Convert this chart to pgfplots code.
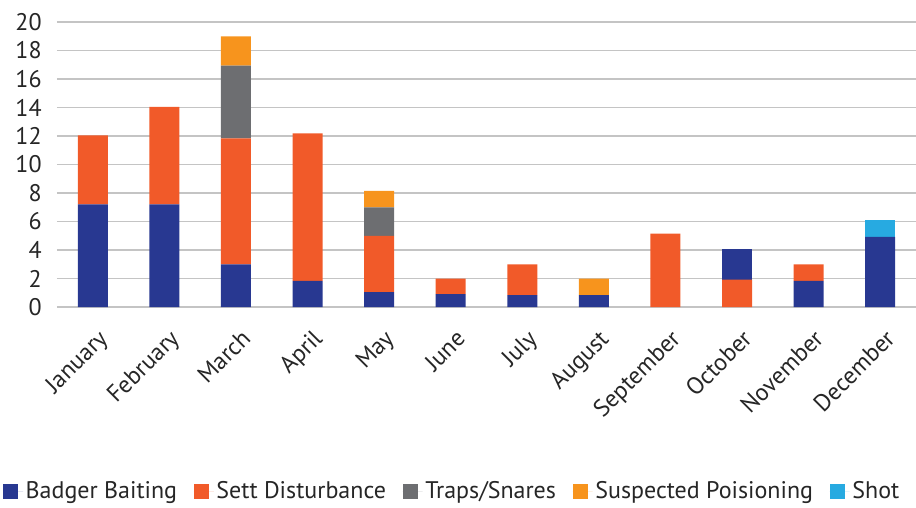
\documentclass[border=0pt]{standalone}
\usepackage{pgfplots}
\pgfplotsset{compat=1.18}
\usepackage{fontspec}
\setmainfont{PT Sans}
\definecolor{cBadger}{HTML}{283891}
\definecolor{cSett}{HTML}{F15A29}
\definecolor{cTraps}{HTML}{6D6E71}
\definecolor{cPoison}{HTML}{F7941D}
\definecolor{cShot}{HTML}{27AAE1}
\definecolor{cGrid}{HTML}{C4C4C4}
\definecolor{cText}{HTML}{262626}
\begin{document}
\begin{tikzpicture}
\begin{axis}[
  scale only axis,
  width=644.25pt, height=213.75pt,
  ybar stacked,
  bar width=22.5pt,
  xmin=-0.5, xmax=11.5,
  ymin=0, ymax=20,
  ytick={0,2,...,20},
  xtick={0,...,11},
  xticklabels={January,February,March,April,May,June,July,August,September,October,November,December},
  axis line style={draw=none},
  major tick style={draw=none},
  ymajorgrids,
  grid style={cGrid, line width=1.4pt},
  font=\fontsize{18}{21}\selectfont,
  tick label style={text=cText},
  /pgf/number format/assume math mode=true,
  yticklabel style={xshift=-8pt},
  xticklabel style={xshift=3pt, yshift=-11pt, rotate=45, anchor=north east},
  legend style={at={(0.4604,-0.646)}, anchor=center, draw=none, legend columns=-1,
    font=\fontsize{18}{21}\selectfont, text=cText,
    /tikz/every even column/.append style={column sep=10.5pt}},
  legend image code/.code={\fill[#1] (0pt,-5.6pt) rectangle (11.25pt,5.6pt); \path (0pt,0pt) -- (15pt,0pt);},
]
\addplot[fill=cBadger, draw=none] coordinates {(0,7.2) (1,7.2) (2,3.0) (3,1.83) (4,1.05) (5,0.91) (6,0.84) (7,0.84) (8,0) (9,0) (10,1.84) (11,4.93)};
\addplot[fill=cSett, draw=none] coordinates {(0,4.85) (1,6.85) (2,8.83) (3,10.36) (4,3.95) (5,1.08) (6,2.15) (7,0) (8,5.15) (9,1.92) (10,1.15) (11,0)};
\addplot[fill=cBadger, draw=none, forget plot] coordinates {(0,0) (1,0) (2,0) (3,0) (4,0) (5,0) (6,0) (7,0) (8,0) (9,2.15) (10,0) (11,0)};
\addplot[fill=cTraps, draw=none] coordinates {(0,0) (1,0) (2,5.1) (3,0) (4,2.0) (5,0) (6,0) (7,0) (8,0) (9,0) (10,0) (11,0)};
\addplot[fill=cPoison, draw=none] coordinates {(0,0) (1,0) (2,2.07) (3,0) (4,1.15) (5,0) (6,0) (7,1.15) (8,0) (9,0) (10,0) (11,0)};
\addplot[fill=cShot, draw=none] coordinates {(0,0) (1,0) (2,0) (3,0) (4,0) (5,0) (6,0) (7,0) (8,0) (9,0) (10,0) (11,1.15)};
\legend{Badger Baiting, Sett Disturbance, Traps/Snares, Suspected Poisioning, Shot}
\coordinate (sw) at (rel axis cs:0,0);
\coordinate (ne) at (rel axis cs:1,1);
\end{axis}
\pgfresetboundingbox
\path ([xshift=-42.75pt,yshift=-150pt]sw) rectangle ([yshift=16.5pt]ne);
\end{tikzpicture}
\end{document}
